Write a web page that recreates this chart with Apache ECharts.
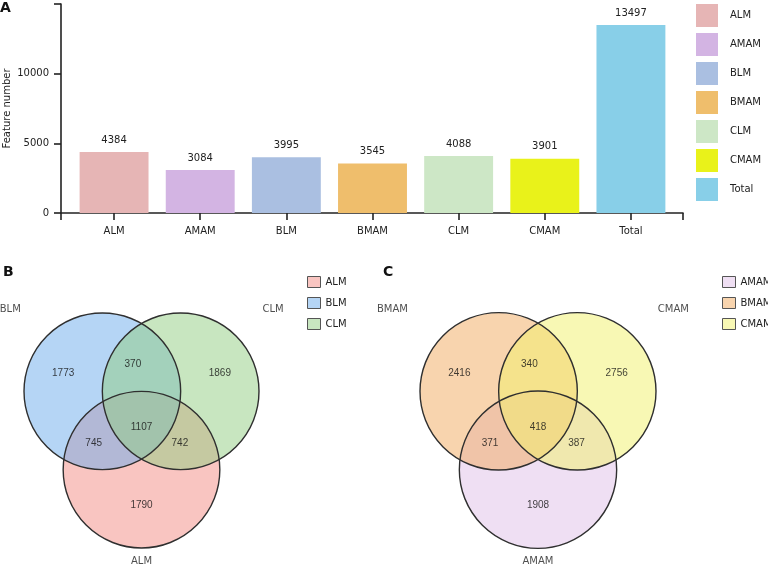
<!DOCTYPE html>
<html>
<head>
<meta charset="utf-8">
<script src="https://cdn.jsdelivr.net/npm/echarts@6/dist/echarts.min.js"></script>
<style>
  html, body { margin: 0; padding: 0; background: #fff; }
  #chart { width: 768px; height: 567px; }
</style>
</head>
<body>
<div id="chart"></div>
<script>
// panel A data
const groups = ['ALM', 'AMAM', 'BLM', 'BMAM', 'CLM', 'CMAM', 'Total'];
const featureCounts = [4384, 3084, 3995, 3545, 4088, 3901, 13497];
const barColors = ['#e6b5b5', '#d3b4e3', '#aabfe1', '#efbe6c', '#cde7c6', '#e9f21a', '#88cfe8'];
const yTicks = [0, 5000, 10000, 15000];

// panel B / C venn data, regions: onlyA, onlyB, onlyC, AB, AC, BC, ABC
const vennBSets = ['ALM', 'BLM', 'CLM'];
const vennBCounts = [1790, 1773, 1869, 745, 742, 370, 1107];
const vennBColors = ['#f9c5c1', '#b5d5f5', '#c8e6c0'];     // legend / single region
const vennBFills = ['#f38b83', '#6babeb', '#91cd81'];      // drawn at half opacity

const vennCSets = ['AMAM', 'BMAM', 'CMAM'];
const vennCCounts = [1908, 2416, 2756, 371, 387, 340, 418];
const vennCColors = ['#efdff3', '#f8d4ae', '#f8f8b4'];
const vennCFills = ['#dfbfe7', '#f1a95d', '#f1f169'];

// layout in circle-radius units: set A bottom, B top-left, C top-right
const circleCenters = [[0, -1], [-0.5, 0], [0.5, 0]];
const regionSpots = [[0, -1.46], [-1.0, 0.23], [1.0, 0.23], [-0.61, -0.66], [0.49, -0.66], [-0.11, 0.34], [0, -0.46]];
const vennBNameSpots = [[0, -2.17], [-1.675, 1.05], [1.68, 1.05]];
const vennCNameSpots = [[0, -2.17], [-1.85, 1.05], [1.72, 1.05]];

const FONT = 'DejaVu Sans';

let chart = echarts.init(document.getElementById('chart'));

let barSeries = groups.map((g, i) => ({
  name: g,
  type: 'bar',
  xAxisIndex: 1,
  yAxisIndex: 1,
  stack: 'one',
  barWidth: '80%',
  data: featureCounts.map((v, j) => (j === i ? v : '-')),
  itemStyle: { color: barColors[i] },
  label: {
    show: true,
    position: 'top',
    distance: 7,
    fontFamily: FONT,
    fontSize: 10,
    color: '#222'
  }
}));

function vennSeries(tag, sets, counts, colors, fills, nameSpots, gi) {
  let out = [];
  sets.forEach((s, i) => {
    out.push({
      name: tag + ':' + s,
      type: 'custom',
      xAxisIndex: gi,
      yAxisIndex: gi,
      clip: false,
      z: 2,
      itemStyle: { color: colors[i] },
      data: [circleCenters[i]],
      renderItem: (params, api) => {
        let c = api.coord([api.value(0), api.value(1)]);
        let r = api.size([1, 1])[0];
        return {
          type: 'circle',
          shape: { cx: c[0], cy: c[1], r: r },
          style: { fill: fills[i], opacity: 0.5 }
        };
      }
    });
  });
  // outlines on top
  out.push({
    name: tag + ':outline',
    type: 'custom',
    xAxisIndex: gi,
    yAxisIndex: gi,
    clip: false,
    z: 3,
    silent: true,
    data: circleCenters,
    renderItem: (params, api) => {
      let c = api.coord([api.value(0), api.value(1)]);
      let r = api.size([1, 1])[0];
      return {
        type: 'circle',
        shape: { cx: c[0], cy: c[1], r: r },
        style: { fill: 'none', stroke: '#2f2f2f', lineWidth: 1.4 }
      };
    }
  });
  out.push({
    name: tag + ':counts',
    type: 'scatter',
    xAxisIndex: gi,
    yAxisIndex: gi,
    z: 5,
    clip: false,
    symbolSize: 0,
    silent: true,
    data: counts.map((v, i) => [regionSpots[i][0], regionSpots[i][1], v]),
    label: {
      show: true,
      position: 'inside',
      formatter: p => p.value[2],
      fontFamily: 'Liberation Sans',
      fontSize: 10,
      color: '#111'
    }
  });
  out.push({
    name: tag + ':names',
    type: 'scatter',
    xAxisIndex: gi,
    yAxisIndex: gi,
    z: 5,
    clip: false,
    symbolSize: 0,
    silent: true,
    data: nameSpots,
    label: {
      show: true,
      position: 'inside',
      formatter: p => sets[p.dataIndex],
      fontFamily: FONT,
      fontSize: 10,
      color: '#222'
    }
  });
  return out;
}

let vennAxisX = { type: 'value', min: -1.5, max: 1.5, show: false };
let vennAxisY = { type: 'value', min: -2, max: 1, show: false };

let option = {
  backgroundColor: '#fff',
  animation: false,
  title: [
    { text: 'A', left: 0, top: 1, padding: 0, textStyle: { fontFamily: FONT, fontSize: 14, fontWeight: 'bold', color: '#111' } },
    { text: 'B', left: 3, top: 265, padding: 0, textStyle: { fontFamily: FONT, fontSize: 14, fontWeight: 'bold', color: '#111' } },
    { text: 'C', left: 383, top: 265, padding: 0, textStyle: { fontFamily: FONT, fontSize: 14, fontWeight: 'bold', color: '#111' } }
  ],
  legend: [
    {
      data: groups,
      orient: 'vertical',
      left: 696, top: 4, padding: 0,
      itemWidth: 22, itemHeight: 23, itemGap: 6,
      icon: 'rect',
      selectedMode: false,
      textStyle: { fontFamily: FONT, fontSize: 10, color: '#222', padding: [0, 0, 0, 7] }
    },
    {
      data: vennBSets.map(s => 'B:' + s),
      formatter: n => n.split(':')[1],
      orient: 'vertical',
      left: 307, top: 276, padding: 0,
      itemWidth: 13, itemHeight: 11, itemGap: 9,
      icon: 'rect',
      selectedMode: false,
      itemStyle: { borderColor: '#555', borderWidth: 1 },
      textStyle: { fontFamily: FONT, fontSize: 10, color: '#222' }
    },
    {
      data: vennCSets.map(s => 'C:' + s),
      formatter: n => n.split(':')[1],
      orient: 'vertical',
      left: 722, top: 276, padding: 0,
      itemWidth: 13, itemHeight: 11, itemGap: 9,
      icon: 'rect',
      selectedMode: false,
      itemStyle: { borderColor: '#555', borderWidth: 1 },
      textStyle: { fontFamily: FONT, fontSize: 10, color: '#222' }
    }
  ],
  grid: [
    { left: 61, top: 4, width: 622, height: 209, outerBoundsMode: 'none' },
    { left: 71, top: 4, width: 603, height: 209, outerBoundsMode: 'none' },
    { left: 24, top: 313, width: 235, height: 235, outerBoundsMode: 'none' },
    { left: 420, top: 313, width: 236, height: 235, outerBoundsMode: 'none' }
  ],
  xAxis: [
    {
      gridIndex: 0, type: 'value', min: 0, max: 1, interval: 1,
      axisLine: { show: true, lineStyle: { color: '#222', width: 1.6 } },
      axisTick: { show: true, length: 7, lineStyle: { color: '#222', width: 1.6 } },
      axisLabel: { show: false },
      splitLine: { show: false }
    },
    {
      gridIndex: 1, type: 'category', data: groups,
      axisLine: { show: false },
      axisTick: { show: true, alignWithLabel: true, length: 7, lineStyle: { color: '#222', width: 1.6 } },
      axisLabel: { margin: 13, fontFamily: FONT, fontSize: 10, color: '#222' }
    },
    Object.assign({ gridIndex: 2 }, vennAxisX),
    Object.assign({ gridIndex: 3 }, vennAxisX)
  ],
  yAxis: [
    {
      gridIndex: 0, type: 'value',
      min: yTicks[0], max: yTicks[yTicks.length - 1], interval: yTicks[1] - yTicks[0],
      name: 'Feature number',
      nameLocation: 'middle',
      nameGap: 49,
      nameMoveOverlap: false,
      nameTextStyle: { fontFamily: FONT, fontSize: 10, color: '#222' },
      axisLine: { show: true, lineStyle: { color: '#222', width: 1.6 } },
      axisTick: { show: true, length: 7, lineStyle: { color: '#222', width: 1.6 } },
      axisLabel: {
        margin: 12, fontFamily: FONT, fontSize: 10, color: '#222',
        formatter: v => (v === yTicks[yTicks.length - 1] ? '' : v)
      },
      splitLine: { show: false }
    },
    {
      gridIndex: 1, type: 'value', show: false,
      min: yTicks[0], max: yTicks[yTicks.length - 1]
    },
    Object.assign({ gridIndex: 2 }, vennAxisY),
    Object.assign({ gridIndex: 3 }, vennAxisY)
  ],
  series: barSeries
    .concat(vennSeries('B', vennBSets, vennBCounts, vennBColors, vennBFills, vennBNameSpots, 2))
    .concat(vennSeries('C', vennCSets, vennCCounts, vennCColors, vennCFills, vennCNameSpots, 3))
};

chart.setOption(option);
</script>
</body>
</html>
